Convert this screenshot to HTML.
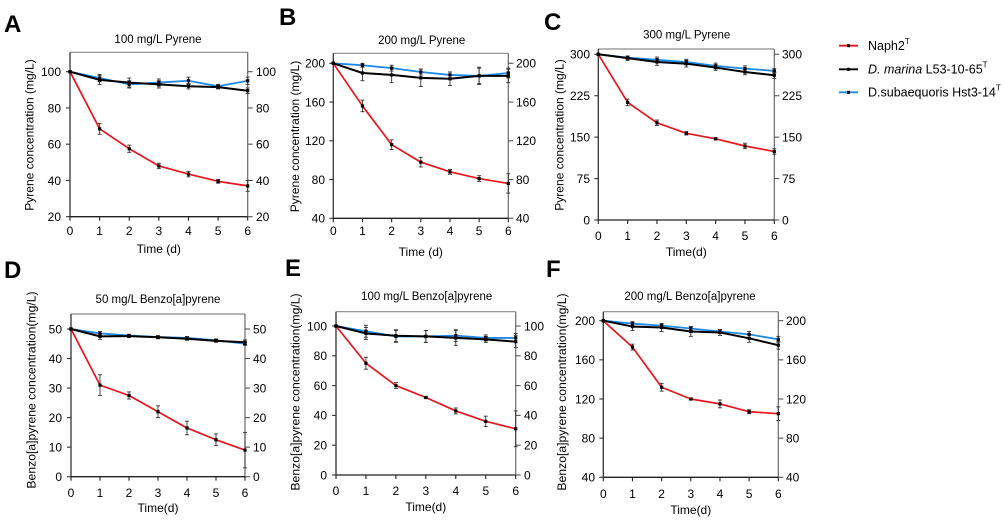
<!DOCTYPE html>
<html><head><meta charset="utf-8"><style>
html,body{margin:0;padding:0;background:#fff;}
svg{display:block;}
text{font-family:"Liberation Sans",Arial,sans-serif;fill:#000;}
.tk{font-size:12px;}
.tl{font-size:11.5px;}
.ax{font-size:12px;}
.ax2{font-size:12.2px;}
.big{font-size:24px;font-weight:bold;}
.lg{font-size:12.5px;}
</style></head><body>
<svg id="s" width="1004" height="530" viewBox="0 0 1004 530" xmlns="http://www.w3.org/2000/svg">
<rect width="1004" height="530" fill="#fff"/>
<g id="plots"></g>

<!-- Panel letters -->
<text class="big" x="4" y="32">A</text>
<text class="big" x="279" y="25">B</text>
<text class="big" x="544" y="30">C</text>
<text class="big" x="4" y="278">D</text>
<text class="big" x="285" y="276">E</text>
<text class="big" x="546" y="277">F</text>

<!-- Titles -->
<text class="tl" x="158" y="43" text-anchor="middle">100 mg/L Pyrene</text>
<text class="tl" x="421.7" y="44" text-anchor="middle">200 mg/L Pyrene</text>
<text class="tl" x="686.7" y="38.5" text-anchor="middle">300 mg/L Pyrene</text>
<text class="tl" x="158" y="303" text-anchor="middle">50 mg/L Benzo[a]pyrene</text>
<text class="tl" x="426.7" y="300" text-anchor="middle">100 mg/L Benzo[a]pyrene</text>
<text class="tl" x="690" y="300" text-anchor="middle">200 mg/L Benzo[a]pyrene</text>

<!-- Y axis titles -->
<text class="ax" transform="translate(33.5,135) rotate(-90)" text-anchor="middle">Pyrene concentration (mg/L)</text>
<text class="ax" transform="translate(299,136.5) rotate(-90)" text-anchor="middle">Pyrene concentration (mg/L)</text>
<text class="ax" transform="translate(563.5,135) rotate(-90)" text-anchor="middle">Pyrene concentration (mg/L)</text>
<text class="ax2" transform="translate(35.5,390) rotate(-90)" text-anchor="middle">Benzo[a]pyrene concentration(mg/L)</text>
<text class="ax2" transform="translate(299.5,392) rotate(-90)" text-anchor="middle">Benzo[a]pyrene concentration(mg/L)</text>
<text class="ax2" transform="translate(566,392) rotate(-90)" text-anchor="middle">Benzo[a]pyrene concentration(mg/L)</text>

<!-- X axis titles -->
<text class="ax" x="158.8" y="253" text-anchor="middle">Time (d)</text>
<text class="ax" x="420.8" y="256" text-anchor="middle">Time (d)</text>
<text class="ax" x="686.3" y="256" text-anchor="middle">Time(d)</text>
<text class="ax" x="158" y="512" text-anchor="middle">Time(d)</text>
<text class="ax" x="425.8" y="511" text-anchor="middle">Time(d)</text>
<text class="ax" x="690.8" y="514" text-anchor="middle">Time(d)</text>

<!-- Panel A tick labels -->
<g class="tk">
<text x="61" y="221" text-anchor="end">20</text>
<text x="61" y="184.9" text-anchor="end">40</text>
<text x="61" y="148.6" text-anchor="end">60</text>
<text x="61" y="112.4" text-anchor="end">80</text>
<text x="61" y="76.1" text-anchor="end">100</text>
<text x="256" y="221">20</text>
<text x="256" y="184.9">40</text>
<text x="256" y="148.6">60</text>
<text x="256" y="112.4">80</text>
<text x="256" y="76.1">100</text>
<text x="70" y="235" text-anchor="middle">0</text>
<text x="99.6" y="235" text-anchor="middle">1</text>
<text x="129.2" y="235" text-anchor="middle">2</text>
<text x="158.8" y="235" text-anchor="middle">3</text>
<text x="188.5" y="235" text-anchor="middle">4</text>
<text x="218.1" y="235" text-anchor="middle">5</text>
<text x="247.7" y="235" text-anchor="middle">6</text>
</g>
<!-- Panel B tick labels -->
<g class="tk">
<text x="325" y="222.6" text-anchor="end">40</text>
<text x="325" y="183.9" text-anchor="end">80</text>
<text x="325" y="145.1" text-anchor="end">120</text>
<text x="325" y="106.4" text-anchor="end">160</text>
<text x="325" y="67.6" text-anchor="end">200</text>
<text x="516" y="222.6">40</text>
<text x="516" y="183.9">80</text>
<text x="516" y="145.1">120</text>
<text x="516" y="106.4">160</text>
<text x="516" y="67.6">200</text>
<text x="333.3" y="235" text-anchor="middle">0</text>
<text x="362.5" y="235" text-anchor="middle">1</text>
<text x="391.6" y="235" text-anchor="middle">2</text>
<text x="420.8" y="235" text-anchor="middle">3</text>
<text x="450" y="235" text-anchor="middle">4</text>
<text x="479.1" y="235" text-anchor="middle">5</text>
<text x="508.3" y="235" text-anchor="middle">6</text>
</g>
<!-- Panel C tick labels -->
<g class="tk">
<text x="590" y="224.3" text-anchor="end">0</text>
<text x="590" y="182.9" text-anchor="end">75</text>
<text x="590" y="141.5" text-anchor="end">150</text>
<text x="590" y="100" text-anchor="end">225</text>
<text x="590" y="58.6" text-anchor="end">300</text>
<text x="782" y="224.3">0</text>
<text x="782" y="182.9">75</text>
<text x="782" y="141.5">150</text>
<text x="782" y="100">225</text>
<text x="782" y="58.6">300</text>
<text x="598.3" y="240" text-anchor="middle">0</text>
<text x="627.6" y="240" text-anchor="middle">1</text>
<text x="657" y="240" text-anchor="middle">2</text>
<text x="686.3" y="240" text-anchor="middle">3</text>
<text x="715.6" y="240" text-anchor="middle">4</text>
<text x="745" y="240" text-anchor="middle">5</text>
<text x="774.3" y="240" text-anchor="middle">6</text>
</g>
<!-- Panel D tick labels -->
<g class="tk">
<text x="62" y="481" text-anchor="end">0</text>
<text x="62" y="451.5" text-anchor="end">10</text>
<text x="62" y="421.9" text-anchor="end">20</text>
<text x="62" y="392.4" text-anchor="end">30</text>
<text x="62" y="362.8" text-anchor="end">40</text>
<text x="62" y="333.3" text-anchor="end">50</text>
<text x="253" y="481">0</text>
<text x="253" y="451.5">10</text>
<text x="253" y="421.9">20</text>
<text x="253" y="392.4">30</text>
<text x="253" y="362.8">40</text>
<text x="253" y="333.3">50</text>
<text x="71" y="497" text-anchor="middle">0</text>
<text x="100" y="497" text-anchor="middle">1</text>
<text x="129" y="497" text-anchor="middle">2</text>
<text x="158" y="497" text-anchor="middle">3</text>
<text x="187" y="497" text-anchor="middle">4</text>
<text x="216" y="497" text-anchor="middle">5</text>
<text x="245" y="497" text-anchor="middle">6</text>
</g>
<!-- Panel E tick labels -->
<g class="tk">
<text x="327" y="479.3" text-anchor="end">0</text>
<text x="327" y="449.5" text-anchor="end">20</text>
<text x="327" y="419.7" text-anchor="end">40</text>
<text x="327" y="389.9" text-anchor="end">60</text>
<text x="327" y="360.1" text-anchor="end">80</text>
<text x="327" y="330.3" text-anchor="end">100</text>
<text x="524" y="479.3">0</text>
<text x="524" y="449.5">20</text>
<text x="524" y="419.7">40</text>
<text x="524" y="389.9">60</text>
<text x="524" y="360.1">80</text>
<text x="524" y="330.3">100</text>
<text x="336" y="495" text-anchor="middle">0</text>
<text x="366" y="495" text-anchor="middle">1</text>
<text x="395.9" y="495" text-anchor="middle">2</text>
<text x="425.9" y="495" text-anchor="middle">3</text>
<text x="455.8" y="495" text-anchor="middle">4</text>
<text x="485.8" y="495" text-anchor="middle">5</text>
<text x="515.7" y="495" text-anchor="middle">6</text>
</g>
<!-- Panel F tick labels -->
<g class="tk">
<text x="595" y="481.6" text-anchor="end">40</text>
<text x="595" y="442.5" text-anchor="end">80</text>
<text x="595" y="403.3" text-anchor="end">120</text>
<text x="595" y="364.2" text-anchor="end">160</text>
<text x="595" y="325" text-anchor="end">200</text>
<text x="786" y="481.6">40</text>
<text x="786" y="442.5">80</text>
<text x="786" y="403.3">120</text>
<text x="786" y="364.2">160</text>
<text x="786" y="325">200</text>
<text x="603.3" y="498" text-anchor="middle">0</text>
<text x="632.5" y="498" text-anchor="middle">1</text>
<text x="661.6" y="498" text-anchor="middle">2</text>
<text x="690.8" y="498" text-anchor="middle">3</text>
<text x="720" y="498" text-anchor="middle">4</text>
<text x="749.1" y="498" text-anchor="middle">5</text>
<text x="778.3" y="498" text-anchor="middle">6</text>
</g>

<!-- Legend -->
<line x1="839" y1="45.7" x2="858" y2="45.7" stroke="#e8141c" stroke-width="1.8"/>
<rect x="847" y="44.2" width="3" height="3" fill="#000"/>
<text class="lg" x="868" y="50">Naph2<tspan font-size="8" dy="-6">T</tspan></text>
<line x1="839" y1="69.3" x2="858" y2="69.3" stroke="#000" stroke-width="1.8"/>
<rect x="847" y="67.8" width="3" height="3" fill="#000"/>
<text class="lg" x="868" y="73.6"><tspan font-style="italic">D. marina</tspan> L53-10-65<tspan font-size="8" dy="-6">T</tspan></text>
<line x1="839" y1="92.3" x2="858" y2="92.3" stroke="#1e8ae6" stroke-width="1.8"/>
<rect x="847" y="90.8" width="3" height="3" fill="#000"/>
<text class="lg" x="868" y="96.6">D.subaequoris Hst3-14<tspan font-size="8" dy="-6">T</tspan></text>
</svg>
<script>
(function(){
var NS="http://www.w3.org/2000/svg";
var g=document.getElementById("plots");
function el(n,a){var e=document.createElementNS(NS,n);for(var k in a)e.setAttribute(k,a[k]);g.appendChild(e);return e;}
var panels=[
 {L:70,R:247.7,T:52.3,B:216.7,v1:20,p1:216.7,v2:100,p2:71.7,ticks:[20,40,60,80,100],
  red:[100,68.5,57.5,48,43.5,39.5,37],re:[0,3,2,1.5,1.5,1,3],
  blk:[100,95.5,94,93,92,91.5,89.5],be:[0,2.5,2.5,2,1.5,1,1.5],
  blu:[100,96.5,93,94,95,92,95],ue:[0,2,2,2,2,1,2]},
 {L:333.3,R:508.3,T:53.3,B:218.3,v1:40,p1:218.3,v2:200,p2:63.3,ticks:[40,80,120,160,200],
  red:[200,156,116,98,88,81,76],re:[0,6,5,5,2.5,3,10],
  blk:[200,190,188,185,184,187,187],be:[0,8,8,9,7,8,7],
  blu:[200,198,195,191,188,187,190],ue:[0,2,3,3,3,9,5]},
 {L:598.3,R:774.3,T:49,B:220,v1:0,p1:220,v2:300,p2:54.3,ticks:[0,75,150,225,300],
  red:[300,213,176,157,147,134,124],re:[0,6,5,3,2,5,5],
  blk:[300,293,286,283,276,268,262],be:[0,4,6,6,5,5,6],
  blu:[300,294,290,286,279,274,270],ue:[0,3,5,5,5,5,4]},
 {L:71,R:245,T:314,B:476.7,v1:0,p1:476.7,v2:50,p2:329,ticks:[0,10,20,30,40,50],
  red:[50,31,27.5,22,16.5,12.5,9],re:[0,3.5,1.2,2,2.3,2,6],
  blk:[50,47.5,47.6,47.2,46.7,46,45.5],be:[0,1,0.5,0.5,0.5,0.5,0.8],
  blu:[50,48.5,47.8,47.3,47,46.2,45],ue:[0,0.7,0.4,0.4,0.4,0.4,0.5]},
 {L:336,R:515.7,T:311.7,B:475,v1:0,p1:475,v2:100,p2:326,ticks:[0,20,40,60,80,100],
  red:[100,75,60,52,43,36,31],re:[0,4,2,0.5,2,3.5,12],
  blk:[100,95,93.5,93,92,91,89.5],be:[0,4,4,4,5,2,4],
  blu:[100,96.5,93,93,93.5,92,92],ue:[0,4,4,4,4,2,3]},
 {L:603.3,R:778.3,T:311.7,B:477.3,v1:40,p1:477.3,v2:200,p2:320.7,ticks:[40,80,120,160,200],
  red:[200,173,132,120,115,107,105],re:[0,3,4,1,4,2,7],
  blk:[200,194,193,189,188,182,175],be:[0,4,4,5,3,4,4],
  blu:[200,197,195,192,189,186,181],ue:[0,2,2,2,2,3,3]}
];
panels.forEach(function(p){
 var sc=(p.p1-p.p2)/(p.v2-p.v1);
 function Y(v){return p.p1-(v-p.v1)*sc;}
 function X(i){return p.L+(p.R-p.L)*i/6;}
 // frame
 el("line",{x1:p.L,y1:p.T,x2:p.R,y2:p.T,stroke:"#8a8a8a","stroke-width":1.2});
 el("line",{x1:p.R,y1:p.T,x2:p.R,y2:p.B,stroke:"#6a6a6a","stroke-width":1.2});
 el("line",{x1:p.L,y1:p.T,x2:p.L,y2:p.B+0.6,stroke:"#333","stroke-width":1.3});
 el("line",{x1:p.L,y1:p.B,x2:p.R,y2:p.B,stroke:"#222","stroke-width":1.3});
 p.ticks.forEach(function(t){var y=Y(t);
  el("line",{x1:p.L-4,y1:y,x2:p.L,y2:y,stroke:"#333","stroke-width":1.1});
  el("line",{x1:p.R,y1:y,x2:p.R+5,y2:y,stroke:"#555","stroke-width":1.1});});
 for(var i=0;i<=6;i++){el("line",{x1:X(i),y1:p.B,x2:X(i),y2:p.B+4,stroke:"#222","stroke-width":1.1});}
 function series(d,e,col,w){
  var pts=d.map(function(v,i){return X(i).toFixed(2)+","+Y(v).toFixed(2);}).join(" ");
  el("polyline",{points:pts,fill:"none",stroke:col,"stroke-width":w,"stroke-linejoin":"round"});
 }
 function bars(d,e){
  d.forEach(function(v,i){if(!e[i])return;var x=X(i),y1=Y(v+e[i]),y2=Y(v-e[i]);
   el("line",{x1:x,y1:y1,x2:x,y2:y2,stroke:"#333","stroke-width":0.9});
   el("line",{x1:x-2,y1:y1,x2:x+2,y2:y1,stroke:"#333","stroke-width":0.9});
   el("line",{x1:x-2,y1:y2,x2:x+2,y2:y2,stroke:"#333","stroke-width":0.9});});
 }
 function marks(d){d.forEach(function(v,i){el("rect",{x:X(i)-1.6,y:Y(v)-1.6,width:3.2,height:3.2,fill:"#000"});});}
 series(p.blu,p.ue,"#1e8ae6",1.8);
 series(p.blk,p.be,"#000",2);
 series(p.red,p.re,"#e8141c",1.7);
 bars(p.blu,p.ue);bars(p.blk,p.be);bars(p.red,p.re);
 marks(p.blu);marks(p.blk);marks(p.red);
});
})();
</script>
</body></html>
